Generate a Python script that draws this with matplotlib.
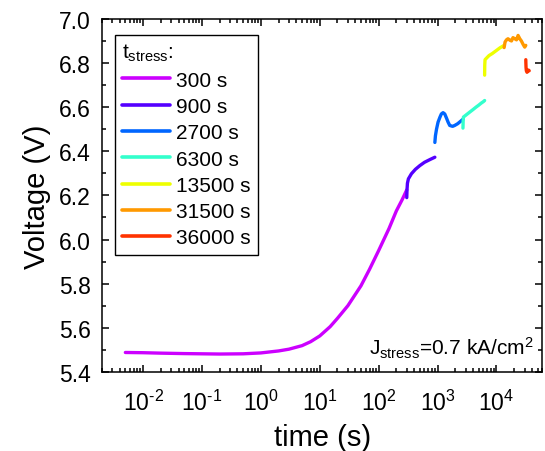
import numpy as np
import matplotlib
matplotlib.use("Agg")
import matplotlib.pyplot as plt
from matplotlib.ticker import (LogLocator, MultipleLocator, FormatStrFormatter,
                               NullFormatter, FuncFormatter)

plt.rcParams['font.family'] = ['Liberation Sans', 'DejaVu Sans']
plt.rcParams['mathtext.fontset'] = 'custom'
plt.rcParams['mathtext.rm'] = 'Liberation Sans'
plt.rcParams['mathtext.it'] = 'Liberation Sans:italic'
plt.rcParams['mathtext.bf'] = 'Liberation Sans:bold'

# stress stages: cumulative stress time (s) vs. voltage (V)
t_300 = [0.005, 0.01, 0.02, 0.05, 0.1, 0.2, 0.5, 1, 2, 3, 5, 7, 10, 15, 20,
         30, 50, 70, 100, 150, 200, 250, 300]
v_300 = [5.488, 5.487, 5.485, 5.483, 5.482, 5.481, 5.482, 5.486, 5.495, 5.503,
         5.519, 5.537, 5.563, 5.605, 5.643, 5.70, 5.79, 5.865, 5.95, 6.05,
         6.13, 6.18, 6.225]

t_900 = [300, 303, 308, 320, 360, 420, 500, 600, 750, 900]
v_900 = [6.19, 6.225, 6.255, 6.275, 6.298, 6.318, 6.335, 6.35, 6.363, 6.373]

t_2700 = [900, 920, 960, 1020, 1100, 1160, 1240, 1325, 1420, 1510, 1610, 1800,
          1955, 2200, 2540, 2700]
v_2700 = [6.44, 6.47, 6.50, 6.532, 6.555, 6.569, 6.575, 6.569, 6.55, 6.532,
          6.517, 6.513, 6.517, 6.525, 6.539, 6.545]

t_6300 = [2700, 2720, 2750, 3000, 3500, 4000, 4500, 5000, 5500, 6000, 6300]
v_6300 = [6.505, 6.535, 6.555, 6.563, 6.577, 6.589, 6.600, 6.609, 6.618, 6.625, 6.630]

t_13500 = [6300, 6330, 6400, 7000, 7500, 8500, 10000, 11500, 13500]
v_13500 = [6.745, 6.79, 6.815, 6.826, 6.834, 6.843, 6.857, 6.869, 6.88]

t_31500 = [13500, 14000, 14800, 15700, 17000, 18000, 19100, 20500, 21900,
           23300, 24900, 26500, 28300, 30200, 31500]
v_31500 = [6.87, 6.895, 6.905, 6.91, 6.903, 6.90, 6.915, 6.91, 6.905, 6.925,
           6.91, 6.90, 6.885, 6.872, 6.88]

t_36000 = [31500, 31600, 31800, 32200, 33000, 34000, 35000, 36000]
v_36000 = [6.815, 6.80, 6.78, 6.765, 6.758, 6.762, 6.768, 6.765]

labels = ["300 s", "900 s", "2700 s", "6300 s", "13500 s", "31500 s", "36000 s"]
colors = ["#cc00ff", "#5500ff", "#0066ff", "#33ffcc", "#eeff00", "#ff9900", "#ff3300"]

series = [(t_300, v_300), (t_900, v_900), (t_2700, v_2700), (t_6300, v_6300),
          (t_13500, v_13500), (t_31500, v_31500), (t_36000, v_36000)]


def decade_label(x, pos):
    # short hyphen instead of the wide math minus, like the original
    e = int(round(np.log10(x)))
    s = str(e).replace('-', '\u2010')
    return r'10$^{%s}$' % s


fig = plt.figure(figsize=(5.45, 4.52), dpi=100)
ax = fig.add_axes([0.187, 0.175, 0.808, 0.781])

for (t, v), lab, c in zip(series, labels, colors):
    ax.plot(t, v, color=c, lw=2.4, label=lab, solid_capstyle='round')

ax.set_xscale('log')
ax.set_xlim(0.002, 6e4)
ax.set_ylim(5.4, 7.0)

ax.xaxis.set_major_locator(LogLocator(base=10, numticks=20))
ax.xaxis.set_minor_locator(LogLocator(base=10, subs=np.arange(2, 10), numticks=20))
ax.xaxis.set_major_formatter(FuncFormatter(decade_label))
ax.xaxis.set_minor_formatter(NullFormatter())
ax.yaxis.set_major_locator(MultipleLocator(0.2))
ax.yaxis.set_minor_locator(MultipleLocator(0.1))
ax.yaxis.set_major_formatter(FormatStrFormatter('%.1f'))

ax.tick_params(which='both', direction='in', top=True, right=True, width=1.1)
ax.tick_params(which='major', length=5, labelsize=16.5)
ax.tick_params(which='minor', length=3)
ax.tick_params(axis='x', which='major', pad=13)
ax.tick_params(axis='y', which='major', pad=8)
for s in ax.spines.values():
    s.set_linewidth(1.1)

ax.set_xlabel('time (s)', fontsize=21, labelpad=6)
ax.set_ylabel('Voltage (V)', fontsize=21, labelpad=6)

leg = ax.legend(loc='upper left', bbox_to_anchor=(0.0295, 0.955), borderaxespad=0,
                title=r't$_{\mathrm{stress}}$:', alignment='left',
                fontsize=15, title_fontsize=15, fancybox=False, framealpha=1,
                edgecolor='black', handlelength=2.3, handletextpad=0.3,
                labelspacing=0.35, borderpad=0.35)
leg.get_frame().set_linewidth(1.0)
for line in leg.get_lines():
    line.set_linewidth(2.6)

ax.text(0.98, 0.05, r'J$_{\mathrm{stress}}$=0.7 kA/cm$^{2}$', transform=ax.transAxes,
        ha='right', va='baseline', fontsize=15)

fig.savefig('out.png', dpi=100)
